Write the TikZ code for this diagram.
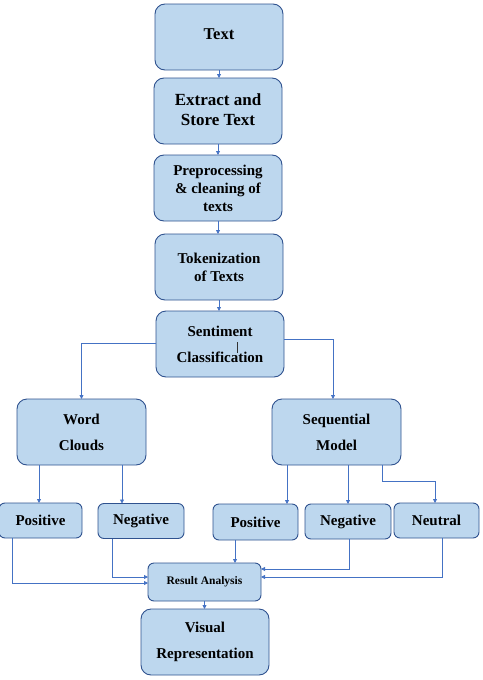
\documentclass[tikz,border=0pt]{standalone}
\usepackage{fontspec}
\setmainfont{Liberation Serif}
\usetikzlibrary{arrows.meta,calc}
\definecolor{boxfill}{HTML}{BDD7EE}
\definecolor{boxline}{HTML}{2F528F}
\definecolor{arrline}{HTML}{4472C4}
\begin{document}
\begin{tikzpicture}[x=1pt,y=-1pt,
  bigbox/.style={draw=boxline,fill=boxfill,line width=0.9pt,rounded corners=10pt,
    inner sep=0pt,outer sep=0pt,align=center,font=\bfseries\fontsize{15}{18}\selectfont},
  smallbox/.style={draw=boxline,fill=boxfill,line width=0.9pt,rounded corners=6pt,
    inner sep=0pt,outer sep=0pt,align=center,minimum height=35pt,font=\bfseries\fontsize{15}{18}\selectfont},
  arr/.style={draw=arrline,line width=0.8pt,-{Triangle[width=4pt,length=4pt]}},
  wide/.style={font=\bfseries\fontsize{15}{26}\selectfont}]
\useasboundingbox (0,0) rectangle (482,680);

\node[bigbox,minimum width=128pt,minimum height=66pt,font=\bfseries\fontsize{16.5}{20}\selectfont] (text) at (219,37) {\raisebox{6pt}{Text}};
\node[bigbox,minimum width=128pt,minimum height=66pt,font=\bfseries\fontsize{17}{20}\selectfont] (extract) at (218,111) {\raisebox{3pt}{\begin{tabular}{@{}c@{}}Extract and\\Store Text\end{tabular}}};
\node[bigbox,minimum width=128pt,minimum height=66pt] (prep) at (218,188) {Preprocessing\\\& cleaning of\\texts};
\node[bigbox,minimum width=128pt,minimum height=66pt] (tok) at (219,267) {Tokenization\\of Texts};
\node[bigbox,wide,minimum width=128pt,minimum height=66pt] (sent) at (220,344) {Sentiment\\Classification};
\node[bigbox,wide,minimum width=129pt,minimum height=66pt] (wc) at (81.5,432) {Word\\Clouds};
\node[bigbox,wide,minimum width=129pt,minimum height=66pt] (seq) at (336.5,432) {Sequential\\Model};
\node[smallbox,minimum width=83pt] (posL) at (40.5,520.5) {Positive};
\node[smallbox,minimum width=86pt] (negL) at (141,521) {Negative};
\node[smallbox,minimum width=85pt,minimum height=36pt] (posR) at (255.5,522) {Positive};
\node[smallbox,minimum width=86pt] (negR) at (348,521.5) {Negative};
\node[smallbox,minimum width=85pt] (neu) at (436.5,520.5) {Neutral};
\node[smallbox,minimum width=113pt,minimum height=38pt,font=\bfseries\fontsize{11.5}{13}\selectfont] (res) at (204.5,582) {Result Analysis};
\node[bigbox,wide,minimum width=128pt,minimum height=66pt] (vis) at (205,642) {Visual\\Representation};

% cursor mark
\draw[black!80,line width=0.6pt] (237,342) -- (237,353);

% vertical chain
\draw[arr] (text.south) -- (text.south |- extract.north);
\draw[arr] (extract.south) -- (extract.south |- prep.north);
\draw[arr] (prep.south) -- (prep.south |- tok.north);
\draw[arr] (tok.south) -- (tok.south |- sent.north);

% sentiment split
\draw[arr] ([yshift=1pt]sent.west) -| (wc.north);
\draw[arr] ([yshift=5pt]sent.east) -| ([xshift=-3.5pt]seq.north);

% word clouds
\draw[arr] ([xshift=-42.5pt]wc.south) -- ([xshift=-42.5pt]wc.south |- posL.north);
\draw[arr] ([xshift=40.5pt]wc.south) -- ([xshift=40.5pt]wc.south |- negL.north);

% sequential
\draw[arr] ([xshift=-49.5pt]seq.south) -- ([xshift=-49.5pt]seq.south |- posR.north);
\draw[arr] ([xshift=11.5pt]seq.south) -- ([xshift=11.5pt]seq.south |- negR.north);
\coordinate (nbend) at ($(seq.south)+(45.5pt,-16pt)$);
\draw[arr] ([xshift=45.5pt]seq.south) -- (nbend) -| ([xshift=-1.5pt]neu.north);

% to result analysis
\draw[arr] ([xshift=-28.5pt]posL.south) |- ([yshift=-1pt]res.west);
\draw[arr] ([xshift=-29pt]negL.south) |- ([yshift=5pt]res.west);
\draw[arr] ([xshift=-20.5pt]posR.south) -- ([xshift=-20.5pt]posR.south |- res.north);
\draw[arr] ([xshift=1pt]negR.south) |- ([yshift=13pt]res.east);
\draw[arr] ([xshift=5.5pt]neu.south) |- ([yshift=5pt]res.east);

% to visual
\draw[arr] (res.south) -- (res.south |- vis.north);
\end{tikzpicture}
\end{document}
